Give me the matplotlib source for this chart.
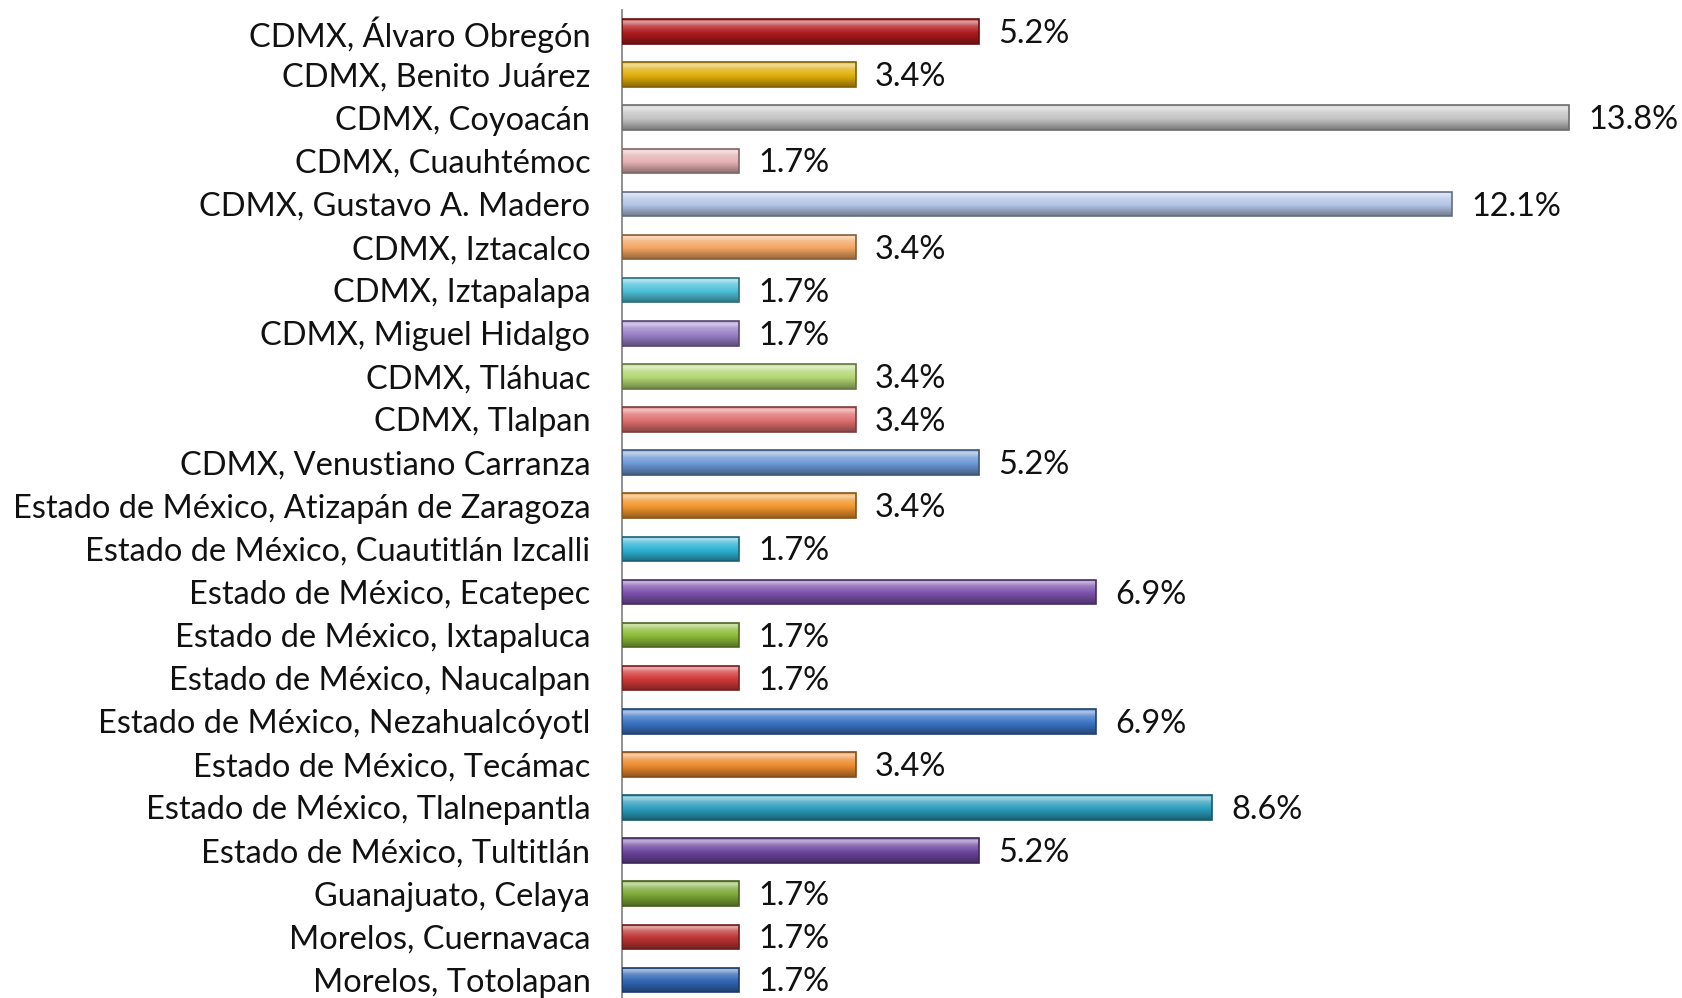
import numpy as np
import matplotlib; matplotlib.use("Agg")
import matplotlib.pyplot as plt
from matplotlib.colors import to_rgb

labels = ["CDMX, Álvaro Obregón", "CDMX, Benito Juárez", "CDMX, Coyoacán", "CDMX, Cuauhtémoc",
          "CDMX, Gustavo A. Madero", "CDMX, Iztacalco", "CDMX, Iztapalapa", "CDMX, Miguel Hidalgo",
          "CDMX, Tláhuac", "CDMX, Tlalpan", "CDMX, Venustiano Carranza",
          "Estado de México, Atizapán de Zaragoza", "Estado de México, Cuautitlán Izcalli",
          "Estado de México, Ecatepec", "Estado de México, Ixtapaluca", "Estado de México, Naucalpan",
          "Estado de México, Nezahualcóyotl", "Estado de México, Tecámac", "Estado de México, Tlalnepantla",
          "Estado de México, Tultitlán", "Guanajuato, Celaya", "Morelos, Cuernavaca", "Morelos, Totolapan"]
values = [5.2, 3.4, 13.8, 1.7, 12.1, 3.4, 1.7, 1.7, 3.4, 3.4, 5.2,
          3.4, 1.7, 6.9, 1.7, 1.7, 6.9, 3.4, 8.6, 5.2, 1.7, 1.7, 1.7]
colors = ["#B01A1E", "#E0AE0A", "#C4C4C4", "#E6B2B4", "#B4C6E6", "#F4A662", "#4FC2DA", "#9A80C8",
          "#B2D672", "#DE6E6E", "#6C98D6", "#F2962C", "#2EB4D4", "#7E52AE", "#8CBB38", "#D43A3A",
          "#3C74C6", "#EC8A2E", "#2A9EBC", "#6E46A0", "#7CA836", "#C03434", "#3268B6"]

plt.rcParams['font.family'] = ['Lato', 'DejaVu Sans']
fig = plt.figure(figsize=(16.82, 9.98), dpi=100)
fig.patch.set_facecolor("white")
ax = fig.add_axes([0.37, 0.0, 0.63, 0.99])
ax.set_facecolor("none")

y = np.arange(len(labels))
h = 0.57
bars = ax.barh(y, values, height=h, color=colors, edgecolor="none", zorder=2)

# 3D-ish shading: vertical gradient clipped to each bar
grad = np.linspace(0, 1, 64)
for b, c in zip(bars, colors):
    base = np.array(to_rgb(c))
    light = base + (1 - base) * 0.6
    dark = base * 0.62
    prof = np.interp(grad, [0, 0.1, 0.28, 0.55, 1.0], [0.2, 1.0, 0.4, 0.0, -1.0])
    img = np.zeros((64, 1, 3))
    for i, p in enumerate(prof):
        img[i, 0] = base + (light - base) * p if p >= 0 else base + (base - dark) * p
    x0, y0 = b.get_x(), b.get_y()
    im = ax.imshow(np.clip(img, 0, 1), extent=(x0, x0 + b.get_width(), y0 + b.get_height(), y0),
                   aspect="auto", interpolation="bilinear", zorder=3)
    im.set_clip_path(b)
    ax.barh(b.get_y() + b.get_height() / 2, b.get_width(), height=b.get_height(), color="none",
            edgecolor=tuple(dark * 0.9), linewidth=1.2, zorder=4)

for yi, v in zip(y, values):
    ax.text(v + 0.28, yi + 0.06, f"{v:.1f}%", va="center", ha="left", fontsize=23.4, color="#111111", zorder=5)

ax.set_xlim(0, 15.45)
ax.set_ylim(len(labels) - 0.58, -0.5)
ax.set_yticks(y)
ax.set_yticklabels(labels, fontsize=23.4, color="#111111")
ax.tick_params(axis="y", length=0, pad=23)
ax.set_xticks([])
for s in ["top", "right", "bottom"]:
    ax.spines[s].set_visible(False)
ax.spines["left"].set_color("#888888")
ax.spines["left"].set_linewidth(1.3)

fig.savefig("out.png", dpi=100)
